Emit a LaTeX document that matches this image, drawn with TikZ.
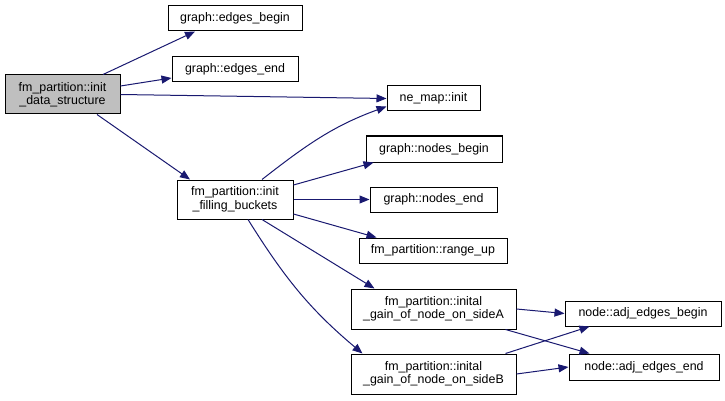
\documentclass[tikz,border=0pt]{standalone}
\usepackage{fontspec}
\setmainfont{Liberation Sans}
\usetikzlibrary{arrows.meta}
\definecolor{edgecol}{HTML}{191970}
\definecolor{rootfill}{HTML}{BFBFBF}
\tikzset{
  box/.style={draw=black, line width=1pt, fill=white, inner sep=0pt, align=center,
    font=\fontsize{12.4}{13.5}\selectfont},
  rootbox/.style={box, fill=rootfill},
  call/.style={draw=edgecol, line width=1pt, -{Triangle[length=10pt,width=8pt]}},
}
\begin{document}
\begin{tikzpicture}[x=1pt,y=-1pt]
\useasboundingbox (0,0) rectangle (725,401);
\node[rootbox, minimum width=115pt, minimum height=39pt] (root) at (62.5,94.5) {fm\_partition::init\\\_data\_structure};
\node[box, minimum width=134pt, minimum height=25pt] (eb) at (235,18.5) {graph::edges\_begin};
\node[box, minimum width=126pt, minimum height=25pt] (ee) at (235,69.5) {graph::edges\_end};
\node[box, minimum width=93pt, minimum height=25pt] (nm) at (433.5,98.5) {ne\_map::init};
\node[box, minimum width=116pt, minimum height=39pt] (fb) at (235,199.5) {fm\_partition::init\\\_filling\_buckets};
\node[box, minimum width=136pt, minimum height=26pt] (nb) at (434,149) {graph::nodes\_begin};
\node[box, minimum width=127pt, minimum height=25pt] (ne) at (433.5,199.5) {graph::nodes\_end};
\node[box, minimum width=148pt, minimum height=25pt] (ru) at (433,250.5) {fm\_partition::range\_up};
\node[box, minimum width=165pt, minimum height=40pt] (sa) at (433.5,309) {fm\_partition::inital\\\_gain\_of\_node\_on\_sideA};
\node[box, minimum width=165pt, minimum height=40pt] (sb) at (433.5,374) {fm\_partition::inital\\\_gain\_of\_node\_on\_sideB};
\node[box, minimum width=156pt, minimum height=25pt] (ab) at (643,313.5) {node::adj\_edges\_begin};
\node[box, minimum width=150pt, minimum height=26pt] (ae) at (644,367) {node::adj\_edges\_end};

\draw[call] ([xshift=40.5pt]root.north) -- ([xshift=-40pt]eb.south);
\draw[call] ([yshift=8.5pt]root.east) -- ([yshift=-8.5pt]ee.west);
\draw[call] (root.east) -- (nm.west);
\draw[call] ([xshift=34.5pt]root.south) -- ([xshift=-45pt]fb.north);
\draw[call] ([xshift=27pt]fb.north) to[out=38,in=200] ([yshift=-8pt]nm.west);
\draw[call] ([yshift=14.5pt]fb.east) -- ([xshift=8pt]nb.south west);
\draw[call] (fb.east) -- (ne.west);
\draw[call] ([yshift=-14.5pt]fb.east) -- ([xshift=18pt]ru.north west);
\draw[call] ([xshift=27pt]fb.south) -- ([xshift=24pt]sa.north west);
\draw[call] ([xshift=13pt]fb.south) to[out=-58,in=140] ([xshift=12pt]sb.north west);
\draw[call] (sa.east) -- (ab.west);
\draw[call] ([xshift=-11pt]sa.south east) -- ([xshift=21pt]ae.north west);
\draw[call] ([xshift=-11pt]sb.north east) -- ([xshift=25pt]ab.south west);
\draw[call] (sb.east) -- (ae.west);
\end{tikzpicture}
\end{document}
